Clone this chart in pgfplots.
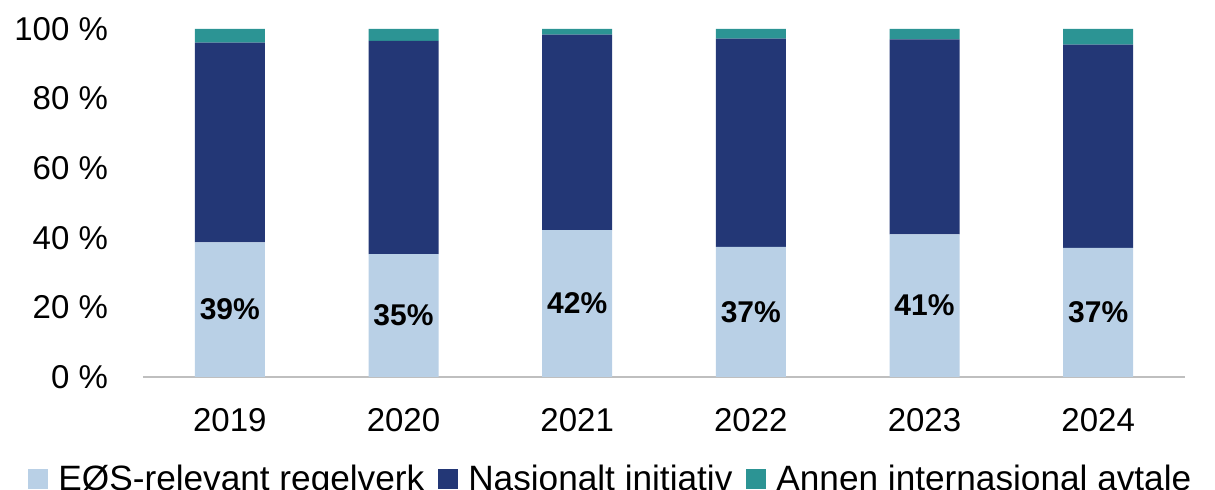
\documentclass[border=0pt]{standalone}
\usepackage{pgfplots}
\pgfplotsset{compat=1.18}
\usepackage{pgfplotstable}
\usepackage{fontspec}
\setmainfont{Liberation Sans}
\definecolor{eos}{HTML}{B9D0E6}
\definecolor{nas}{HTML}{233776}
\definecolor{annen}{HTML}{2C9494}
\pgfplotstableread{
x eos nas annen half pct
0 38.7 57.4 3.9 19.35 39
1 35.3 61.3 3.4 17.65 35
2 42.2 56.2 1.6 21.10 42
3 37.4 59.8 2.8 18.70 37
4 41.0 56.0 3.0 20.50 41
5 37.1 58.4 4.5 18.55 37
}\datatable
\begin{document}
\begin{tikzpicture}
\pgfplotsset{
  common/.style={
    scale only axis, width=521pt, height=174pt,
    xmin=-0.5, xmax=5.5, ymin=0, ymax=100,
  }
}
\begin{axis}[
  name=ax, common,
  ybar stacked, bar width=35pt,
  axis lines*=left,
  y axis line style={draw=none},
  x axis line style={draw=black!25, line width=0.8pt},
  major tick length=0pt,
  xtick=data,
  xticklabels={2019,2020,2021,2022,2023,2024},
  ytick={0,20,40,60,80,100},
  yticklabels={0 \%,20 \%,40 \%,60 \%,80 \%,100 \%},
  tick label style={font=\fontsize{16.5}{19}\selectfont},
  xticklabel style={yshift=-12pt},
  yticklabel style={xshift=-14pt},
  legend style={legend columns=-1, draw=none, fill=none,
    at={(0.45,-0.228)}, anchor=north,
    font=\fontsize{17.6}{21}\selectfont,
    /tikz/every odd column/.append style={column sep=3pt},
    /tikz/every even column/.append style={column sep=5pt}},
  legend image code/.code={\fill[#1] (0pt,-5pt) rectangle (10pt,5pt);},
]
\addplot[fill=eos, draw=none] table[x=x, y=eos] {\datatable};
\addplot[fill=nas, draw=none] table[x=x, y=nas] {\datatable};
\addplot[fill=annen, draw=none] table[x=x, y=annen] {\datatable};
\legend{EØS-relevant regelverk, Nasjonalt initiativ, Annen internasjonal avtale}
\end{axis}
\begin{axis}[
  common, hide axis,
]
\addplot[draw=none, mark=none, point meta=explicit,
  nodes near coords={\pgfmathprintnumber[fixed,precision=0,assume math mode=true]{\pgfplotspointmeta}\%},
  every node near coord/.append style={anchor=center, font=\bfseries\fontsize{15}{18}\selectfont}]
  table[x=x, y=half, meta=pct] {\datatable};
\end{axis}
\pgfresetboundingbox
\path ([shift={(-71.5pt,-56.5pt)}]ax.south west) rectangle ([shift={(15pt,14.5pt)}]ax.north east);
\end{tikzpicture}
\end{document}
